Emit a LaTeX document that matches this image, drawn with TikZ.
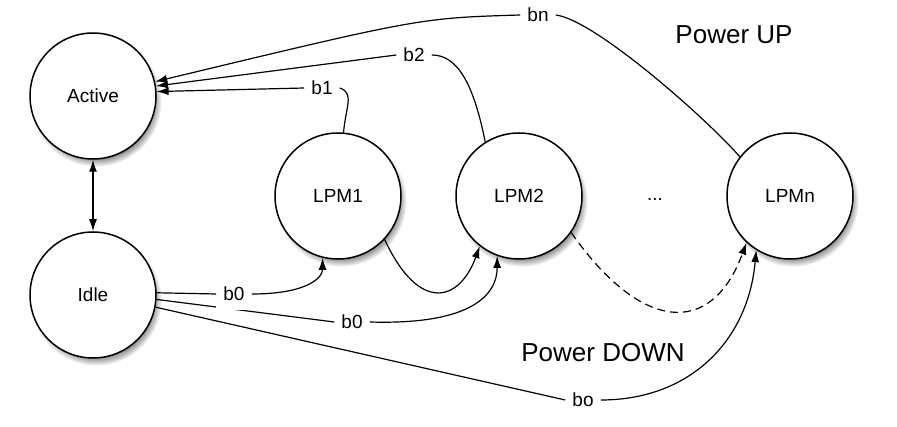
\documentclass[tikz,border=0pt]{standalone}
\usepackage{fontspec}
\setmainfont{Liberation Sans}
\usetikzlibrary{arrows.meta,shadows}

\begin{document}
\begin{tikzpicture}[x=1pt,y=-1pt,
    >={Latex[length=12pt,width=8pt]},
    pmode/.style={circle,draw,line width=1.5pt,fill=white,minimum size=126pt,inner sep=0pt,
        font=\fontsize{19}{22}\selectfont,
        circular drop shadow={shadow xshift=3pt,shadow yshift=-5pt,shadow scale=1.04}},
    blabel/.style={fill=white,inner xsep=7pt,inner ysep=2pt,font=\fontsize{19}{22}\selectfont},
    big/.style={font=\fontsize{26}{30}\selectfont}]
    \useasboundingbox (0,0) rectangle (897,427);

    \foreach \name/\px/\py/\txt in {active/93/96/Active, idle/93/295/Idle,
        lpm1/338/196/LPM1, lpm2/519/196/LPM2, lpmn/790/196/LPMn}
        \node[pmode] (\name) at (\px,\py) {\txt};

    \node[blabel] (dots) at (655,199) {...};
    \node[big] (up) at (734,35) {Power UP};
    \node[big] (down) at (603,353) {Power DOWN};

    \foreach \name/\px/\py/\txt in {b1/322/88/b1, b2/414/55/b2, bn/538/15/bn,
        b0b/352/322/b0, bo/583/400/bo}
        \node[blabel] (\name) at (\px,\py) {\txt};

    \draw[line width=1.2pt,<->] (active) -- (idle);

    \draw[line width=1.2pt] (lpm1.85) .. controls +(2,-25) and +(15,5) .. (b1.east);
    \draw[line width=1.2pt,->] (b1.west) -- (active.4);
    \draw[line width=1.2pt] (lpm2.122) .. controls +(-12,-60) and +(25,0) .. (b2.east);
    \draw[line width=1.2pt,->] (b2.west) -- (active.9);
    \draw[line width=1.2pt] (bn.east) .. controls +(40,5) and +(-30,-35) .. (lpmn.142);
    \draw[line width=1.2pt,->] (bn.west) .. controls (420,18) .. (active.13);

    \draw[line width=1.2pt] (idle.-4) -- (b0b.west);
    \node[blabel,inner ysep=9pt] (b0a) at (234,294) {b0};
    \draw[line width=1.2pt] (idle.2) -- (b0a.west);
    \draw[line width=1.2pt,->] (b0a.east) .. controls +(55,0) and +(0,20) .. (lpm1.-104);
    \draw[line width=1.2pt,->] (b0b.east) .. controls +(100,3) and +(0,40) .. (lpm2.-110);
    \draw[line width=1.2pt,->] (lpm1.-43) .. controls +(35,75) and +(-20,55) .. (lpm2.-128);
    \draw[line width=1.2pt,->,dash pattern=on 8pt off 5pt] (lpm2.-35) .. controls +(70,100) and +(-35,95) .. (lpmn.-133);
    \draw[line width=1.2pt] (idle.-11) -- (bo.west);
    \draw[line width=1.2pt,->] (bo.east) .. controls +(90,0) and +(-8,90) .. (lpmn.-122);
\end{tikzpicture}
\end{document}
